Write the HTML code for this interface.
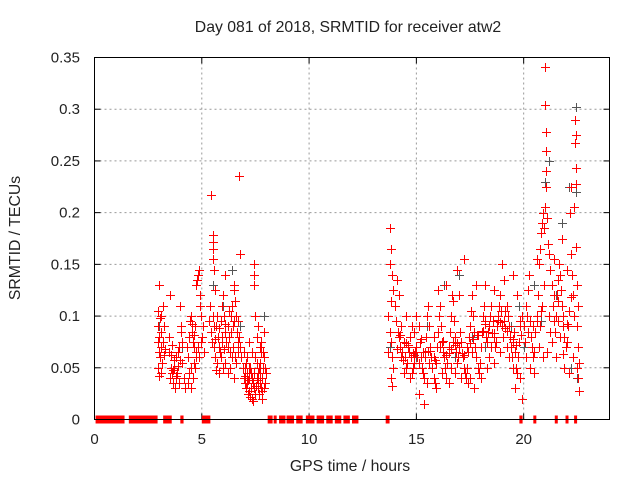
<!DOCTYPE html>
<html><head><meta charset="utf-8"><style>
html,body{margin:0;padding:0;background:#fff;}
svg{display:block;font-family:"Liberation Sans",sans-serif;}
</style></head><body>
<svg id="chart" width="640" height="480" viewBox="0 0 640 480" xmlns="http://www.w3.org/2000/svg">
<rect width="640" height="480" fill="#fff"/>
<text x="348" y="32" font-size="15.8" text-anchor="middle" fill="#222">Day 081 of 2018, SRMTID for receiver atw2</text>
<text x="350" y="471" font-size="15.8" text-anchor="middle" fill="#222">GPS time / hours</text>
<text x="0" y="0" font-size="15.8" text-anchor="middle" fill="#222" transform="translate(20,238) rotate(-90)">SRMTID / TECUs</text>
<g id="grid"></g>
<g id="ticks"></g>
<g id="zeros"></g>
<g id="grey"></g>
<g id="red"></g>
<rect x="94.5" y="57.5" width="515" height="362" fill="none" stroke="#000" stroke-width="1"/>
</svg>
<script>
const xTicks=[0,5,10,15,20];
const yTicks=[0,0.05,0.1,0.15,0.2,0.25,0.3,0.35];
const yTickLabels=["0","0.05","0.1","0.15","0.2","0.25","0.3","0.35"];
const zeroStart=[0.05,1.6,3.2,4.0,5.0,8.07,8.35,8.6,8.95,9.4,9.85,10.35,10.8,11.2,11.6,12.0,13.57,19.8,20.45,21.45,21.95,22.35];
const zeroEnd=[1.4,2.94,3.6,4.15,5.4,8.3,8.45,8.9,9.3,9.7,10.25,10.7,11.1,11.5,11.9,12.3,13.75,19.95,20.55,21.55,22.05,22.45];
const redTimes=[
2.95,3.0,3.05,2.98,3.1,3.02,2.95,3.08,3.0,3.05,2.97,3.1,3.0,3.15,3.12,3.2,3.25,3.18,3.3,3.22,
3.5,3.45,3.55,3.6,3.5,3.65,3.7,3.75,3.8,3.85,3.9,3.95,4.0,4.05,4.02,4.1,4.15,4.2,3.58,3.68,3.78,3.88,3.92,4.08,3.48,3.62,
4.35,4.4,4.45,4.5,4.55,4.6,4.65,4.7,4.75,4.78,4.8,4.85,4.9,4.95,4.82,4.72,4.62,4.52,4.42,4.38,4.48,4.58,4.68,4.88,4.98,5.05,5.0,4.92,5.08,4.3,
5.45,5.5,5.5,5.5,5.52,5.55,5.6,5.4,5.35,5.42,5.48,5.55,5.6,5.65,5.7,5.75,5.8,5.85,5.9,5.95,6.0,6.05,6.1,6.15,6.2,6.25,6.3,6.35,6.4,6.45,6.5,6.52,6.55,6.6,6.65,6.7,6.75,6.78,6.74,6.8,6.1,5.9,6.0,6.1,6.2,6.3,6.4,5.7,5.65,5.8,6.5,6.6,6.7,5.95,6.25,6.45,6.55,5.5,5.58,6.05,
6.85,6.9,6.95,7.0,7.05,7.1,7.15,7.2,7.25,7.3,7.35,7.4,7.45,7.5,7.55,7.6,7.65,7.7,7.75,7.8,7.85,7.9,7.95,8.0,7.0,7.1,7.2,7.3,7.4,7.5,7.6,7.7,7.8,7.9,6.95,7.05,7.15,7.25,7.35,7.45,7.55,7.65,7.75,7.85,7.42,7.45,7.45,7.48,7.6,7.55,7.78,7.9,7.7,7.35,7.2,7.95,
13.75,13.8,13.75,13.85,13.9,13.8,13.7,13.75,13.8,13.7,13.85,13.9,13.8,13.85,
14.0,14.1,14.05,14.15,14.2,14.25,14.3,14.35,14.4,14.45,14.5,14.55,14.6,14.65,14.7,14.75,14.8,14.85,14.9,14.95,15.0,15.05,15.1,15.15,15.2,15.25,15.3,15.35,15.4,15.45,15.5,15.55,15.6,15.65,15.7,15.75,15.8,15.85,15.9,15.95,16.0,16.05,16.1,16.15,16.2,16.25,16.3,16.35,16.4,16.45,16.5,16.55,16.6,16.65,16.7,16.75,16.8,16.85,16.9,16.95,17.0,17.05,17.1,17.15,17.2,17.25,17.3,17.35,17.4,17.45,17.5,17.55,17.6,17.65,17.7,17.75,17.8,17.85,17.9,17.95,18.0,18.05,18.1,18.15,18.2,18.25,18.3,18.35,18.4,18.45,18.5,18.55,18.6,18.65,18.7,18.75,18.8,18.85,18.9,18.95,19.0,19.05,19.1,19.15,19.2,19.25,19.3,19.35,19.4,19.45,19.5,19.55,19.6,19.65,19.7,19.75,19.8,19.85,19.9,
14.3,14.5,14.9,15.3,15.6,15.9,16.2,16.5,16.8,17.1,17.4,17.7,18.0,18.3,18.6,18.9,19.2,19.5,14.7,15.1,15.35,16.4,16.9,17.2,17.8,18.6,19.1,19.5,19.0,15.0,14.2,16.0,17.0,18.2,19.7,14.8,15.8,16.7,17.6,18.5,19.3,14.4,15.5,16.6,17.5,18.4,19.6,19.85,19.9,
20.0,20.05,20.1,20.15,20.2,20.25,20.3,20.35,20.4,20.45,20.5,20.55,20.6,20.65,20.7,20.75,20.8,20.85,20.9,20.95,21.0,21.02,21.05,21.05,21.0,20.98,21.1,21.15,21.2,21.25,21.3,21.35,21.4,21.45,21.5,21.55,21.6,21.65,21.7,21.75,21.8,21.85,21.9,21.95,22.0,22.05,22.1,22.15,22.2,22.25,22.3,22.35,22.4,22.42,22.4,22.45,22.42,22.35,22.45,22.5,22.55,22.5,22.55,22.6,22.5,22.55,22.6,20.1,20.3,20.5,20.7,20.9,21.1,21.3,21.5,21.7,21.9,22.1,22.3,21.6,20.85,20.95,21.2,20.6,21.4,22.2,22.0,21.8,21.05,20.75,21.85,
14.12,14.38,14.62,14.88,15.12,15.38,15.62,15.88,16.12,16.38,16.62,16.88,17.12,17.38,17.62,17.88,18.12,18.38,18.62,18.88,19.12,19.38,19.62,19.88,
14.22,14.52,14.82,15.22,15.52,15.82,16.22,16.52,16.82,17.22,17.52,17.82,18.22,18.52,18.82,19.22,19.52,19.82,
5.62,5.78,5.92,6.08,6.22,6.38,6.52,6.68,7.02,7.12,7.22,7.32,7.52,7.62,7.72,7.82,4.55,4.65,4.75,3.72,3.82,3.98,20.22,20.42,20.62,20.82,21.22,21.42,21.62,21.82,22.02,22.22];
const redValues=[
0.105,0.13,0.098,0.09,0.085,0.08,0.075,0.07,0.065,0.06,0.05,0.045,0.042,0.055,0.1,0.11,0.09,0.075,0.068,0.062,
0.12,0.065,0.05,0.045,0.04,0.035,0.058,0.03,0.06,0.045,0.052,0.07,0.11,0.085,0.09,0.055,0.04,0.03,0.062,0.048,0.04,0.065,0.035,0.075,0.08,0.072,
0.06,0.08,0.095,0.1,0.085,0.075,0.07,0.09,0.13,0.135,0.14,0.145,0.11,0.1,0.07,0.065,0.055,0.05,0.045,0.035,0.03,0.04,0.05,0.06,0.075,0.09,0.08,0.12,0.065,0.07,
0.217,0.178,0.172,0.165,0.155,0.145,0.125,0.11,0.095,0.085,0.075,0.07,0.06,0.09,0.1,0.08,0.07,0.065,0.095,0.11,0.12,0.1,0.085,0.075,0.09,0.08,0.065,0.1,0.11,0.09,0.13,0.125,0.115,0.1,0.085,0.095,0.08,0.07,0.235,0.16,0.14,0.06,0.05,0.055,0.045,0.05,0.06,0.055,0.048,0.045,0.04,0.055,0.065,0.075,0.105,0.07,0.06,0.1,0.09,0.068,
0.06,0.05,0.04,0.035,0.03,0.045,0.025,0.04,0.05,0.03,0.02,0.035,0.045,0.06,0.04,0.03,0.05,0.055,0.065,0.04,0.05,0.06,0.035,0.045,0.05,0.06,0.028,0.045,0.018,0.025,0.045,0.035,0.02,0.03,0.065,0.055,0.038,0.022,0.04,0.03,0.055,0.025,0.03,0.065,0.15,0.14,0.13,0.1,0.09,0.08,0.075,0.085,0.07,0.065,0.075,0.05,
0.185,0.165,0.15,0.14,0.125,0.115,0.1,0.085,0.075,0.065,0.06,0.05,0.04,0.032,
0.11,0.135,0.095,0.085,0.08,0.07,0.06,0.065,0.075,0.06,0.05,0.055,0.07,0.065,0.08,0.06,0.045,0.05,0.055,0.065,0.07,0.06,0.09,0.075,0.06,0.05,0.045,0.04,0.065,0.08,0.1,0.11,0.09,0.07,0.06,0.05,0.04,0.035,0.055,0.07,0.085,0.1,0.11,0.09,0.075,0.065,0.06,0.05,0.04,0.055,0.07,0.085,0.1,0.12,0.115,0.095,0.08,0.065,0.055,0.06,0.07,0.085,0.075,0.06,0.05,0.045,0.04,0.05,0.065,0.08,0.09,0.105,0.12,0.1,0.085,0.07,0.06,0.05,0.045,0.055,0.07,0.085,0.1,0.11,0.095,0.08,0.075,0.085,0.09,0.1,0.11,0.095,0.08,0.07,0.075,0.09,0.1,0.11,0.12,0.105,0.09,0.08,0.095,0.105,0.11,0.1,0.09,0.08,0.07,0.06,0.075,0.085,0.065,0.05,0.045,0.06,0.075,0.09,0.1,
0.09,0.1,0.085,0.065,0.055,0.03,0.045,0.035,0.045,0.04,0.035,0.03,0.04,0.05,0.055,0.065,0.07,0.05,0.04,0.025,0.015,0.13,0.145,0.155,0.13,0.125,0.135,0.14,0.15,0.1,0.12,0.125,0.12,0.13,0.12,0.09,0.08,0.075,0.065,0.07,0.06,0.045,0.035,0.05,0.04,0.06,0.03,0.04,0.02,
0.09,0.075,0.11,0.1,0.125,0.14,0.095,0.08,0.07,0.06,0.065,0.085,0.1,0.12,0.15,0.165,0.18,0.19,0.2,0.185,0.205,0.225,0.26,0.278,0.304,0.341,0.195,0.17,0.16,0.145,0.13,0.11,0.095,0.085,0.1,0.12,0.135,0.15,0.14,0.125,0.11,0.09,0.08,0.07,0.075,0.09,0.105,0.2,0.225,0.14,0.12,0.1,0.29,0.275,0.267,0.243,0.228,0.205,0.167,0.13,0.11,0.09,0.07,0.055,0.05,0.04,0.028,0.06,0.05,0.045,0.07,0.06,0.065,0.075,0.06,0.08,0.05,0.045,0.06,0.095,0.11,0.13,0.1,0.155,0.155,0.16,0.145,0.175,0.24,0.09,0.063,
0.068,0.058,0.072,0.062,0.055,0.06,0.066,0.058,0.07,0.062,0.068,0.074,0.064,0.07,0.078,0.082,0.086,0.09,0.084,0.094,0.088,0.08,0.072,0.082,
0.082,0.074,0.064,0.078,0.066,0.06,0.076,0.064,0.072,0.062,0.074,0.082,0.092,0.084,0.096,0.086,0.078,0.095,
0.078,0.088,0.08,0.092,0.07,0.085,0.095,0.075,0.042,0.035,0.05,0.04,0.032,0.038,0.045,0.028,0.092,0.082,0.06,0.05,0.042,0.058,0.085,0.09,0.095,0.105,0.085,0.12,0.115,0.1,0.092,0.118];
const greyTimes=[3.0,3.5,4.1,4.9,5.5,6.0,6.4,6.8,7.5,7.9,14.2,15.0,15.5,16.3,17.0,17.6,18.2,18.8,19.4,20.0,20.5,21.0,21.2,21.5,21.8,22.1,22.45,22.45,22.2,22.5,20.8,19.8,16.8,13.75];
const greyValues=[0.09,0.12,0.07,0.12,0.13,0.11,0.145,0.09,0.06,0.1,0.08,0.06,0.09,0.13,0.14,0.08,0.07,0.1,0.09,0.07,0.13,0.23,0.25,0.12,0.19,0.225,0.302,0.22,0.05,0.04,0.095,0.11,0.06,0.07];

const X0=94.5,X1=609.5,Y0=419.5,Y1=57.5,XMAX=24,YMAX=0.35;
const xs=t=>X0+(X1-X0)*t/XMAX;
const ys=v=>Y0-(Y0-Y1)*v/YMAX;
const NS="http://www.w3.org/2000/svg";
function mk(tag,attrs,parent){const e=document.createElementNS(NS,tag);for(const k in attrs)e.setAttribute(k,attrs[k]);parent.appendChild(e);return e;}
const grid=document.getElementById('grid'),ticks=document.getElementById('ticks');
xTicks.forEach(t=>{
  const x=xs(t);
  if(t>0){const g=mk('line',{x1:x,x2:x,y1:Y1,y2:Y0,stroke:'#999','stroke-dasharray':'2,3'},grid);
  
  }
  mk('line',{x1:x,x2:x,y1:Y0,y2:Y0-6,stroke:'#000'},ticks);
  mk('line',{x1:x,x2:x,y1:Y1,y2:Y1+6,stroke:'#000'},ticks);
  const l=mk('text',{x:x,y:444,'font-size':15,'text-anchor':'middle',fill:'#222'},ticks);
  l.textContent=t;
  
  
});
yTicks.forEach((v,i)=>{
  const y=ys(v);
  if(v>0&&v<YMAX){const g=mk('line',{x1:X0,x2:X1,y1:y,y2:y,stroke:'#999','stroke-dasharray':'2,3'},grid);
  
  }
  mk('line',{x1:X0,x2:X0+6,y1:y,y2:y,stroke:'#000'},ticks);
  mk('line',{x1:X1,x2:X1-6,y1:y,y2:y,stroke:'#000'},ticks);
  const l=mk('text',{x:80,y:y+5,'font-size':15,'text-anchor':'end',fill:'#222'},ticks);
  l.textContent=yTickLabels[i];
  
  
});
const zg=document.getElementById('zeros');
zeroStart.forEach((s,i)=>{
  const r=mk('rect',{x:xs(s),y:ys(0)-4,width:Math.max(3,xs(zeroEnd[i])-xs(s)),height:8,fill:'#f00'},zg);
  
  
});
function plus(g,t,v,col,name){
  const x=Math.round(xs(t))+0.5,y=Math.round(ys(v))+0.5;
  const p=mk('path',{d:`M${x-4.5},${y}H${x+4.5}M${x},${y-4.5}V${y+4.5}`,stroke:col,'stroke-width':1,fill:'none'},g);
  
  
}
const gg=document.getElementById('grey'),rg=document.getElementById('red');
greyTimes.forEach((t,i)=>plus(gg,t,greyValues[i],'#555','grey-point'));
redTimes.forEach((t,i)=>plus(rg,t,redValues[i],'#f00','red-point'));
</script>
</body></html>
